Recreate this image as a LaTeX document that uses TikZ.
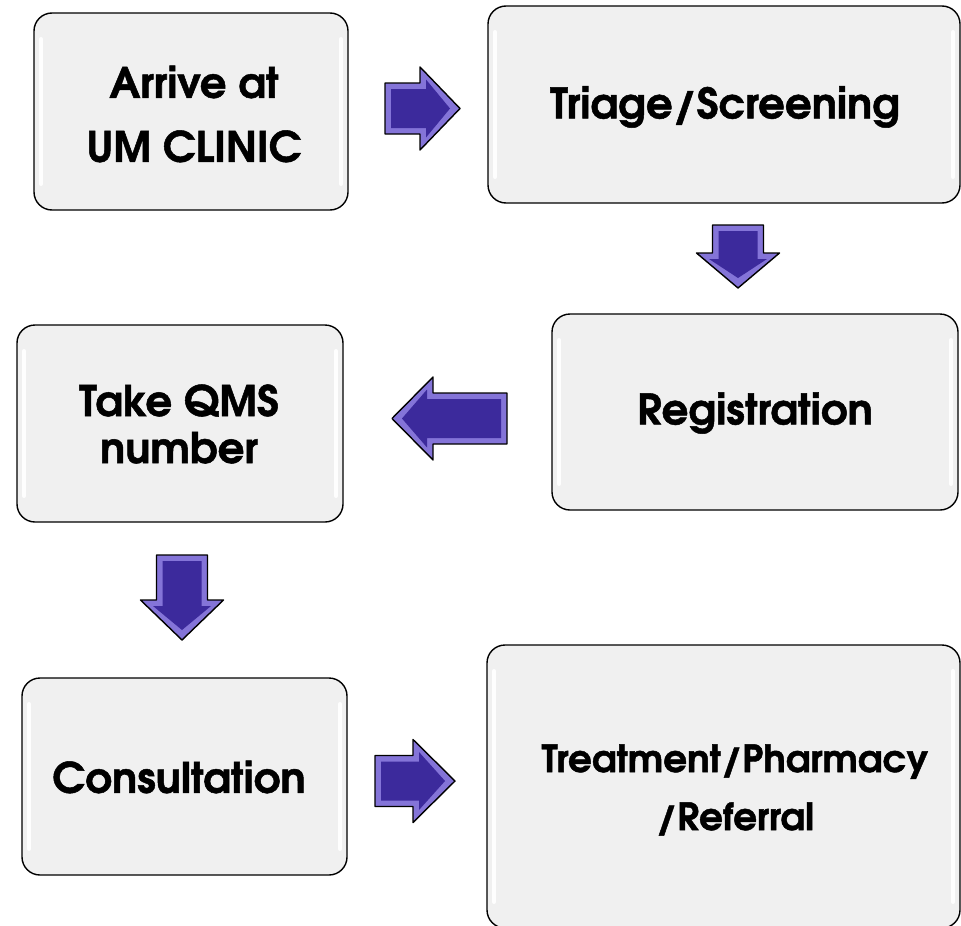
\documentclass[tikz,border=0pt]{standalone}
\usepackage{fontspec}
\setmainfont[BoldFeatures={FakeBold=1.2}]{TeX Gyre Adventor}
\definecolor{boxgray}{HTML}{F0F0F0}
\definecolor{arrowedge}{HTML}{8474D8}
\definecolor{arrowcore}{HTML}{3C2A9C}
\newcommand\fatarrow[5]{%
  \begin{scope}[shift={(#1,#2)},rotate=#3]
    \filldraw[fill=arrowedge,draw=black,line width=1.4pt,line join=round]
      (0,-25.5) -- (#4,-25.5) -- (#4,-41.5) -- ({#4+#5},0) -- (#4,41.5) -- (#4,25.5) -- (0,25.5) -- cycle;
    \fill[arrowcore]
      (6,-19.5) -- ({#4+6},-19.5) -- ({#4+6},-29) -- ({#4+#5-10},0) -- ({#4+6},29) -- ({#4+6},19.5) -- (6,19.5) -- cycle;
  \end{scope}}
\newcommand\gloss[4]{% left top right bottom
  \draw[white,line width=4pt,line cap=round,opacity=0.95] ({#1+7},{#2+26}) -- ({#1+7},{#4-26});
  \draw[white,line width=4pt,line cap=round,opacity=0.95] ({#3-7},{#2+26}) -- ({#3-7},{#4-26});}
\begin{document}
\begin{tikzpicture}[x=1pt,y=-1pt,
  box/.style={draw=black,line width=1.4pt,fill=boxgray,rounded corners=18pt,inner sep=0pt},
  lbl/.style={font=\bfseries\fontsize{42}{#1}\selectfont,align=center,inner sep=0pt},
  lbl/.default=58]
\useasboundingbox (0,0) rectangle (961,926);
% boxes
\node[box,minimum width=314pt,minimum height=197pt] (arrive) at (191,111.5) {};
\node[box,minimum width=472pt,minimum height=197pt] (triage) at (724,104.5) {};
\node[box,minimum width=406pt,minimum height=196pt] (reg) at (755,412) {};
\node[box,minimum width=326pt,minimum height=197pt] (qms) at (180,423.5) {};
\node[box,minimum width=325pt,minimum height=197pt] (consult) at (184.5,776.5) {};
\node[box,minimum width=473pt,minimum height=283pt] (treat) at (723.5,786.5) {};
% gloss
\gloss{34}{13}{348}{210}
\gloss{488}{6}{960}{203}
\gloss{552}{314}{958}{510}
\gloss{17}{325}{343}{522}
\gloss{22}{678}{347}{875}
\gloss{487}{645}{960}{928}
% texts
\node[lbl=64] (tarrive) at (194,114) {Arrive at\\UM CLINIC};
\node[lbl] (ttriage) at (725,107) {Triage/Screening};
\node[lbl] (treg) at (755,413) {Registration};
\node[lbl=47] (tqms) at (179,424) {Take QMS\\number};
\node[lbl] (tconsult) at (179,777) {Consultation};
\node[font=\bfseries\fontsize{37.5}{58}\selectfont,align=center,inner sep=0pt] (ttreat) at (735,790) {Treatment/Pharmacy\\/Referral};
% arrows
\fatarrow{385}{108.5}{0}{35}{40}
\fatarrow{507}{418.5}{180}{74}{41}
\fatarrow{738}{225}{-90}{28}{35}
\fatarrow{182}{555}{-90}{45}{40}
\fatarrow{375}{781}{0}{38}{42}
\end{tikzpicture}
\end{document}
